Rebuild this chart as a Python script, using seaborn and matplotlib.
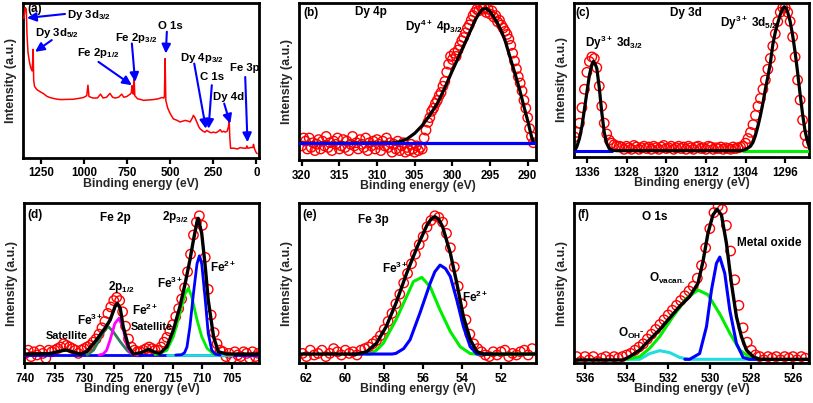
import matplotlib
matplotlib.use("Agg")
import matplotlib.pyplot as plt
import seaborn as sns

# ---------------- data (binding energy in eV, intensity in a.u.) ----------------
# (a) survey spectrum
survey_be = [1350, 1342, 1336, 1332, 1326, 1318, 1310, 1302, 1299, 1296, 1293, 1288, 1275, 1255, 1237,
             1215, 1198, 1170, 1140, 1100, 1063, 1030, 1005, 985, 978, 972, 950, 923, 905, 890, 870,
             850, 835, 820, 800, 782, 770, 752, 733, 726, 722, 718, 714, 710, 706, 690, 670, 656, 630,
             598, 570, 549, 537, 534, 530, 526, 515, 501, 482, 460, 443, 414, 395, 385, 370, 366, 358,
             346, 335, 327, 310, 298, 288, 278, 265, 249, 235, 220, 210, 200, 190, 181, 170, 162, 158,
             155, 150, 130, 110, 94, 75, 60, 55, 50, 30, 20, 17, 12, 5, 0, -5]
survey_int = [90, 97, 96, 80, 68, 62, 58, 56, 62, 70, 50, 46, 44, 42.5, 41.4,
              39.5, 38.8, 38, 37.5, 37.6, 37.7, 38.3, 38.8, 40, 46.8, 39.5, 38.5, 38.5, 41, 38.5, 39,
              41.5, 39, 38.5, 39, 41, 39, 39.5, 41, 42, 46.5, 41.5, 41, 51, 40, 38, 37.5, 37, 37.2,
              37.5, 38, 38.8, 38.5, 40, 64, 37, 32, 28.5, 25, 24, 23, 24, 23.5, 23, 26, 27.3, 26,
              23, 20, 18.6, 17, 16.4, 17.5, 16.8, 16, 16.4, 16, 17, 18, 16.5, 17, 16.4, 17, 20, 24,
              14, 6, 6, 5.5, 6.4, 6, 6, 7.5, 6, 6.5, 6.5, 8.5, 6, 4, 3, 2.5]
survey_labels = [r"Dy 3d$_{3/2}$", r"Dy 3d$_{5/2}$", r"Fe 2p$_{1/2}$", r"Fe 2p$_{3/2}$", "O 1s",
                 r"Dy 4p$_{3/2}$", "C 1s", "Dy 4d", "Fe 3p"]

# (b) Dy 4p
b_be = [320.0, 319.75, 319.5, 319.25, 319.0, 318.75, 318.5, 318.25, 318.0, 317.75, 317.5, 317.25,
        317.0, 316.75, 316.5, 316.25, 316.0, 315.75, 315.5, 315.25, 315.0, 314.75, 314.5, 314.25,
        314.0, 313.75, 313.5, 313.25, 313.0, 312.75, 312.5, 312.25, 312.0, 311.75, 311.5, 311.25,
        311.0, 310.75, 310.5, 310.25, 310.0, 309.75, 309.5, 309.25, 309.0, 308.75, 308.5, 308.25,
        308.0, 307.75, 307.5, 307.25, 307.0, 306.75, 306.5, 306.25, 306.0, 305.75, 305.5, 305.25,
        305.0, 304.75, 304.5, 304.25, 304.0,
        303.75, 303.5, 303.25, 303.0, 302.75, 302.5, 302.25, 302.0, 301.75, 301.5, 301.25, 301.0,
        300.75, 300.5, 300.25, 300.0, 299.75, 299.5, 299.25, 299.0, 298.75, 298.5, 298.25, 298.0,
        297.75, 297.5, 297.25, 297.0, 296.75, 296.5, 296.25, 296.0, 295.75, 295.5, 295.25, 295.0,
        294.75, 294.5, 294.25, 294.0, 293.75, 293.5, 293.25, 293.0, 292.75, 292.5, 292.25, 292.0,
        291.75, 291.5, 291.25, 291.0, 290.75, 290.5, 290.25, 290.0, 289.75, 289.5, 289.25]
b_int = [9, 14, 12, 7, 14, 8, 11, 6, 10, 13, 7, 12, 9, 15, 8, 11, 6, 12, 10, 14,
         7, 9, 13, 8, 12, 6, 10, 15, 9, 11, 7, 13, 10, 8, 14, 6, 11, 9, 12, 7,
         13, 10, 6, 12, 9, 14, 8, 11, 5, 10, 7, 12, 6, 9, 11, 5, 8, 6, 10, 7,
         5, 9, 6, 8, 7,
         14, 19, 24, 27, 31, 33, 36, 38, 41, 43, 47, 50, 56, 61, 66, 64, 68, 66, 70, 73,
         76, 78, 81, 84, 86, 89, 92, 94, 96, 95, 98, 96, 97, 94, 96, 93, 95, 91, 92, 88,
         89, 86, 84, 82, 80, 77, 73, 68, 63, 58, 53, 49, 44, 38, 33, 27, 20, 15, 11]
b_fit_be = [320.4, 308, 307, 306, 305, 304, 303, 302, 301, 300, 299, 298, 297, 296.5, 296, 295.5, 295,
            294.5, 294, 293.5, 293, 292.5, 292, 291.5, 291, 290.5, 290, 289.5, 289.2]
b_fit = [10.6, 10.8, 11.5, 13.5, 17, 22, 28.5, 36, 46, 57, 67.5, 78, 89, 93, 96, 96.5, 94.5, 91, 87,
         82, 76, 68, 60, 52, 43.5, 34, 25, 15, 10.6]
b_base_be = [320.4, 288.9]
b_base = [10.6, 10.6]

# (c) Dy 3d
c_be = [1338.5, 1338.0, 1337.5, 1337.0, 1336.5, 1336.0, 1335.5, 1335.0, 1334.5, 1334.0, 1333.5,
        1333.0, 1332.5, 1332.0, 1331.5, 1331.0, 1330.5, 1330.0,
        1329.5, 1329.0, 1328.5, 1328.0, 1327.5, 1327.0, 1326.5, 1326.0, 1325.5, 1325.0,
        1324.5, 1324.0, 1323.5, 1323.0, 1322.5, 1322.0, 1321.5, 1321.0, 1320.5, 1320.0,
        1319.5, 1319.0, 1318.5, 1318.0, 1317.5, 1317.0, 1316.5, 1316.0, 1315.5, 1315.0,
        1314.5, 1314.0, 1313.5, 1313.0, 1312.5, 1312.0, 1311.5, 1311.0, 1310.5, 1310.0,
        1309.5, 1309.0, 1308.5, 1308.0, 1307.5, 1307.0, 1306.5, 1306.0, 1305.5, 1305.0,
        1304.5, 1304.0, 1303.5, 1303.0, 1302.5, 1302.0, 1301.5, 1301.0, 1300.5, 1300.0, 1299.5,
        1299.0, 1298.5, 1298.0, 1297.5, 1297.0, 1296.5, 1296.0, 1295.5, 1295.0, 1294.5, 1294.0,
        1293.5, 1293.0, 1292.5, 1292.0, 1291.5]
c_int = [13, 16, 22, 32, 44, 55, 62, 65, 64, 58, 46, 33, 22, 15, 11, 9, 8, 7,
         7, 6.5, 5, 7, 6, 5, 7.5, 6.5, 5, 6,
         7, 5.5, 6.5, 5, 7, 6, 5, 6.5, 7.5, 5.5,
         6, 7, 5, 6, 7, 5.5, 6.5, 5, 7, 6,
         5, 6.5, 7, 5.5, 6, 5, 7, 6.5, 5, 6,
         5.5, 6.5, 5, 6, 5.5, 5, 6.5, 5.5, 6, 6.5,
         7, 9, 12, 16, 21, 27, 33, 38, 44, 50, 57, 64, 72, 80, 88, 94, 97, 97, 94, 88, 78, 65, 50,
         37, 24, 14, 9]
c_fit_be = [1338.3, 1338.0, 1337.5, 1337.0, 1336.5, 1336.0, 1335.5, 1335.0, 1334.7, 1334.4, 1334.0,
            1333.5, 1333.0, 1332.5, 1332.0, 1331.5, 1331.0, 1330.0, 1305.0, 1304.0, 1303.0, 1302.5,
            1302.0, 1301.5, 1301.0, 1300.5, 1300.0, 1299.5, 1299.0, 1298.5, 1298.0, 1297.5, 1297.0,
            1296.5, 1296.2, 1295.8, 1295.5, 1295.0, 1294.5, 1294.0, 1293.5, 1293.0, 1292.5, 1292.0,
            1291.5, 1291.2]
c_fit = [5, 7, 12, 20, 31, 42, 53, 60, 62, 61, 57.5, 45, 29, 16, 8.9, 5.5, 4.5, 4.1, 4.1, 4.8, 7,
         9.5, 14, 20, 27, 35, 44, 52, 61, 73, 81, 87, 92.5, 96.5, 97.6, 96.5, 94, 88, 79, 68, 55,
         41, 28, 17, 10, 7]
c_d32_be = [1338.3, 1331.0]
c_d32 = [4.1, 4.1]
c_d52_be = [1304.5, 1291.2]
c_d52 = [4.1, 4.1]

# (d) Fe 2p
d_be = [740.0, 739.5, 739.0, 738.5, 738.0, 737.5, 737.0, 736.5, 736.0, 735.5,
        735.0, 734.5, 734.0, 733.5, 733.0, 732.5, 732.0, 731.5, 731.0, 730.5,
        730.0, 729.5, 729.0, 728.5, 728.0, 727.5, 727.0, 726.5, 726.0, 725.5,
        725.0, 724.5, 724.0, 723.5, 723.0, 722.5, 722.0, 721.5, 721.0, 720.5,
        720.0, 719.5, 719.0, 718.5, 718.0, 717.5, 717.0, 716.5, 716.0, 715.5,
        715.0, 714.5, 714.0, 713.5, 713.0, 712.5, 712.0, 711.5, 711.0, 710.5,
        710.0, 709.5, 709.0, 708.5, 708.0, 707.5, 707.0, 706.5, 706.0, 705.5,
        705.0, 704.5, 704.0, 703.5, 703.0, 702.5, 702.0, 701.5, 701.0, 700.5]
d_int = [6, 8, 4, 7, 5, 8, 6, 3, 8, 7,
         8, 9, 10, 12, 11, 10, 9, 8, 6, 8,
         9, 10, 11, 13, 15, 18, 22, 26, 31, 35,
         39, 41, 39, 32, 23, 15, 10, 8, 7, 7,
         8, 9, 10, 9, 8, 8, 10, 13, 16, 20,
         24, 29, 34, 40, 47, 57, 68, 80, 88, 92,
         86, 66, 46, 30, 19, 12, 8, 7, 4, 6,
         3, 7, 5, 4, 7, 6, 3, 7, 4, 6]
d_fit_be = [740.2, 735.8, 733.8, 733.0, 732.1, 730.7, 729.6, 727.9, 726.5, 725.6, 724.8, 724.4,
            723.9, 723.4, 722.5, 721.7, 720.3, 719.1, 718.3, 717.2, 716.0, 714.9, 713.8, 712.9,
            712.1, 711.5, 710.9, 710.7, 710.1, 709.5, 709.0, 708.1, 707.3, 705.9, 700.4]
d_fit = [5.6, 5.9, 7.7, 8.1, 7.1, 5.6, 7.1, 14.6, 21.7, 26.9, 35.2, 37.3, 34.2, 22.7, 10.2, 5.6,
         6.5, 8.6, 7.1, 5.9, 10.2, 20.6, 35.2, 49.8, 64.4, 76.9, 88.3, 90.4, 81, 60.2, 39.4, 16.5,
         7.1, 5.6, 5.6]
d_fe2_32_be = [714.5, 713.5, 713.0, 712.6, 712.1, 711.5, 710.9, 710.5, 710.1, 709.5, 709.0, 708.4,
               707.8, 707.0]
d_fe2_32 = [5, 5.2, 6.5, 10, 22.7, 43.5, 62, 67, 62, 39.4, 18.5, 8, 5.5, 5]
d_fe3_32_be = [718.0, 717.2, 716.0, 714.9, 713.8, 712.9, 712.35, 711.8, 710.9, 710.1, 709.2, 708.1,
               707.0]
d_fe3_32 = [5.2, 5.9, 8, 16.5, 31, 43.5, 46.7, 41.5, 27, 16.5, 9.2, 5.6, 5]
d_fe2_12_be = [727.5, 726.8, 726.2, 725.6, 724.8, 724.1, 723.4, 722.9, 722.3, 721.7, 721.0]
d_fe2_12 = [5, 5.6, 8, 14.6, 24.8, 28, 21.7, 12.3, 7, 5.5, 5]
d_fe3_12_be = [729.5, 728.4, 727.3, 726.5, 725.9, 725.1, 723.9, 722.7, 722.0, 721.0]
d_fe3_12 = [5, 8.1, 15.6, 20.8, 22.7, 19.6, 13.3, 7.7, 5.6, 5]
d_base_be = [740.2, 700.4]
d_base = [5, 5]
d_sat_be = [716.0, 705.0]
d_sat = [5, 5]

# (e) Fe 3p
e_be = [62.2, 62.0, 61.8, 61.6, 61.4, 61.2, 61.0, 60.8, 60.6, 60.4,
        60.2, 60.0, 59.8, 59.6, 59.4, 59.2, 59.0, 58.8, 58.6, 58.4,
        58.2, 58.0, 57.8, 57.6, 57.4, 57.2, 57.0, 56.8, 56.6, 56.4,
        56.2, 56.0, 55.8, 55.6, 55.4, 55.2, 55.0, 54.8, 54.6, 54.4,
        54.2, 54.0, 53.8, 53.6, 53.4, 53.2, 53.0, 52.8, 52.6, 52.4,
        52.2, 52.0, 51.8, 51.6, 51.4, 51.2, 51.0, 50.8, 50.6, 50.4]
e_int = [6, 4, 8, 5, 6, 8, 4, 6, 9, 7,
         5, 8, 6, 7, 5, 8, 9, 10, 12, 14,
         17, 21, 26, 31, 37, 43, 50, 56, 62, 68,
         74, 79, 85, 89, 92, 91, 88, 81, 72, 60,
         48, 37, 27, 18, 12, 9, 7, 5, 4, 7,
         5, 7, 8, 4, 6, 5, 7, 8, 5, 9]
e_fit_be = [62.4, 59.4, 58.9, 58.4, 57.9, 57.4, 56.85, 56.3, 55.8, 55.6, 55.4, 55.2, 55.0, 54.6,
            54.27, 53.93, 53.58, 53.24, 52.9, 50.2]
e_fit = [5.6, 5.6, 7.1, 12.3, 22.7, 37.3, 56, 72.7, 86.2, 89.8, 91.5, 89.8, 85.2, 68.5, 49.8, 29,
         14.6, 7.1, 5.6, 5.6]
e_fe2_be = [59.6, 57.6, 57.4, 57.0, 56.67, 56.16, 55.64, 55.4, 55.13, 54.85, 54.6, 54.27, 53.93,
            53.58, 53.24, 52.9, 52.5]
e_fe2 = [5.6, 5.6, 6, 9, 14.6, 31.4, 49.8, 57, 61.2, 59, 54, 39.4, 22.7, 10.2, 5.6, 5.6, 5.6]
e_fe3_be = [58.9, 58.74, 58.4, 58.05, 57.4, 56.85, 56.5, 56.07, 55.64, 55.13, 54.6, 54.1, 53.58,
            53.24, 50.2]
e_fe3 = [5.6, 5.6, 8, 12.3, 26.9, 41.5, 50.9, 53.5, 47.7, 33.1, 19.6, 10.2, 5.9, 5.6, 5.6]

# (f) O 1s
f_be = [536.4, 536.2, 536.0, 535.8, 535.6, 535.4, 535.2, 535.0, 534.8, 534.6,
        534.4, 534.2, 534.0, 533.8, 533.6, 533.4, 533.2, 533.0, 532.8, 532.6,
        532.4, 532.2, 532.0, 531.8, 531.6, 531.4, 531.2, 531.0, 530.8, 530.6,
        530.4, 530.2, 530.0, 529.8, 529.6, 529.4, 529.2, 529.0, 528.8, 528.6,
        528.4, 528.2, 528.0, 527.8, 527.6, 527.4, 527.2, 527.0, 526.8, 526.6,
        526.4, 526.2, 526.0, 525.8, 525.6, 525.4]
f_int = [4, 1, 4, 2, 4, 1, 3, 4, 2, 4,
         3, 4, 5, 6, 8, 10, 12, 15, 18, 21,
         24, 27, 30, 33, 36, 39, 42, 45, 48, 53,
         61, 72, 84, 94, 98, 96, 86, 70, 52, 36,
         22, 13, 8, 5, 4, 2, 4, 3, 4, 2,
         4, 3, 4, 2, 4, 3]
f_fit_be = [536.5, 534.17, 533.85, 533.37, 532.89, 532.41, 531.93, 531.45, 530.97, 530.57, 530.33,
            530.09, 529.85, 529.65, 529.44, 529.2, 528.96, 528.72, 528.48, 528.24, 527.92, 527.6,
            525.2]
f_fit = [1.9, 1.9, 4, 8.1, 14.6, 20.8, 28.1, 35.4, 41.5, 49.8, 63.3, 81, 92.5, 96.1, 92.5, 74.8,
         49.8, 29, 16.5, 8.1, 4, 2.3, 2.3]
f_vac_be = [534.0, 533.37, 532.89, 532.41, 531.77, 531.13, 530.57, 530.09, 529.5, 529.04, 528.56,
            528.08, 527.7, 527.2]
f_vac = [2.3, 4, 9.2, 16.5, 29, 40.4, 45.6, 42.7, 30.2, 18.7, 8.1, 3.5, 2.3, 2.3]
f_mo_be = [531.2, 530.97, 530.49, 530.16, 529.92, 529.68, 529.52, 529.28, 529.04, 528.72, 528.4,
           528.1, 527.3]
f_mo = [2.3, 2.3, 5.9, 22.7, 45.6, 62.3, 66.2, 56, 33.1, 12.3, 3.5, 2.3, 2.3]
f_oh_be = [534.0, 533.37, 532.89, 532.41, 531.93, 531.45, 531.0, 527.6]
f_oh = [2.3, 2.3, 5.9, 7.7, 6.5, 3.5, 2.3, 2.3]

# ---------------- style ----------------
sns.set_theme(style="ticks")
plt.rcParams["font.family"] = ["Liberation Sans", "DejaVu Sans"]
plt.rcParams["font.weight"] = "bold"
plt.rcParams["mathtext.fontset"] = "custom"
plt.rcParams["mathtext.rm"] = "Liberation Sans:bold"
plt.rcParams["mathtext.bf"] = "Liberation Sans:bold"
plt.rcParams["mathtext.it"] = "Liberation Sans:bold"
plt.rcParams["mathtext.default"] = "bf"

RED, BLUE, BLACK = "#ff0000", "#0000ff", "#000000"
GREEN, MAG, DKGREEN, CYAN = "#00ee00", "#ff00ff", "#2e7d5b", "#22dddd"

W, H = 813, 403
fig = plt.figure(figsize=(W / 100, H / 100), dpi=100)
fig.patch.set_facecolor("white")


def add_ax(l, r, t, b):
    return fig.add_axes([l / W, 1 - b / H, (r - l) / W, (b - t) / H])


def style(ax, xlim, ticks):
    ax.set_xlim(*xlim)
    ax.set_ylim(0, 100)
    ax.set_xticks(ticks)
    ax.set_xticklabels([str(t) for t in ticks], fontweight="bold")
    ax.set_yticks([])
    ax.tick_params(axis="x", direction="out", length=4, width=1.6, labelsize=8.3, pad=3,
                   colors="black")
    for s in ax.spines.values():
        s.set_linewidth(2.0)
        s.set_color("black")
    ax.set_xlabel("Binding energy (eV)", fontsize=8.8, fontweight="bold", labelpad=-1)
    ax.set_ylabel("Intensity (a.u.)", fontsize=9, fontweight="bold", labelpad=4.5)
    ax.set_facecolor("white")


def circles(ax, x, y):
    sns.scatterplot(x=x, y=y, ax=ax, s=46, marker="o", facecolor="none", edgecolor=RED,
                    linewidth=1.0, legend=False, zorder=2)


def line(ax, x, y, color, lw=2.2, z=3):
    sns.lineplot(x=x, y=y, ax=ax, color=color, linewidth=lw, sort=False, estimator=None,
                 legend=False, zorder=z)


def txt(ax, x, y, s, size=8.5):
    ax.text(x, y, s, ha="left", va="center", fontsize=size, fontweight="bold", color="black",
            zorder=6)


# ---------------- (a) ----------------
ax = add_ax(23, 259, 3, 157.5)
line(ax, survey_be, survey_int, RED, lw=1.1)
style(ax, (1355, -15), [1250, 1000, 750, 500, 250, 0])
txt(ax, 1332, 96, "(a)")
a_text_pos = [(1099, 92.2), (1285, 80.5), (1041, 67.5), (820, 77.3), (571, 85),
              (443, 64.3), (327, 52), (251, 39), (152, 57.8)]
a_arrows = [((1111, 92.9), (1332, 90.3)), ((1188, 76), (1285, 68.4)), ((917, 61.9), (723, 46.8)),
            ((723, 73.8), (704, 48.9)), ((520, 81.4), (526, 67.3)), ((361, 60.8), (293, 18.6)),
            ((259, 46.8), (278, 18.6)), ((187, 34.9), (152, 21.9)), ((65, 52.1), (52, 9.9))]
for lab, (tx, ty), (tail, head) in zip(survey_labels, a_text_pos, a_arrows):
    txt(ax, tx, ty, lab, size=8.2)
    ax.annotate("", xy=head, xytext=tail,
                arrowprops=dict(arrowstyle="-|>,head_length=0.45,head_width=0.22", color=BLUE,
                                lw=1.5, shrinkA=0, shrinkB=0), zorder=5)

# ---------------- (b) ----------------
ax = add_ax(299, 536, 3, 160)
circles(ax, b_be, b_int)
line(ax, b_fit_be, b_fit, BLACK, lw=2.3, z=3)
line(ax, b_base_be, b_base, BLUE, lw=2.3, z=4)
style(ax, (320.36, 288.9), [320, 315, 310, 305, 300, 295, 290])
txt(ax, 319.8, 93.6, "(b)")
txt(ax, 312.9, 94.3, "Dy 4p")
txt(ax, 306.3, 84.7, r"Dy$^{4+}$ 4p$_{3/2}$")

# ---------------- (c) ----------------
ax = add_ax(574, 809, 3, 157)
circles(ax, c_be, c_int)
line(ax, c_d32_be, c_d32, BLUE, lw=2.2, z=3)
line(ax, c_d52_be, c_d52, GREEN, lw=2.2, z=3)
line(ax, c_fit_be, c_fit, BLACK, lw=2.3, z=4)
style(ax, (1338.6, 1291.2), [1336, 1328, 1320, 1312, 1304, 1296])
txt(ax, 1338.4, 93.5, "(c)")
txt(ax, 1319.25, 93.5, "Dy 3d")
txt(ax, 1309.2, 87, r"Dy$^{3+}$ 3d$_{5/2}$")
txt(ax, 1336.4, 74, r"Dy$^{3+}$ 3d$_{3/2}$")

# ---------------- (d) ----------------
ax = add_ax(24, 259, 203, 363)
circles(ax, d_be, d_int)
line(ax, d_base_be, d_base, BLUE, lw=2.0, z=3)
line(ax, d_sat_be, d_sat, CYAN, lw=2.0, z=3)
line(ax, d_fe3_12_be, d_fe3_12, DKGREEN, lw=2.0, z=3)
line(ax, d_fe2_12_be, d_fe2_12, MAG, lw=2.0, z=3)
line(ax, d_fe3_32_be, d_fe3_32, GREEN, lw=2.0, z=3)
line(ax, d_fe2_32_be, d_fe2_32, BLUE, lw=2.0, z=3)
line(ax, d_fit_be, d_fit, BLACK, lw=2.4, z=4)
style(ax, (740.2, 700.4), [740, 735, 730, 725, 720, 715, 710, 705])
txt(ax, 739.7, 92.5, "(d)")
txt(ax, 727.3, 90.6, "Fe 2p")
txt(ax, 716.8, 91.3, r"2p$_{3/2}$")
txt(ax, 708.7, 60, r"Fe$^{2+}$")
txt(ax, 717.7, 50, r"Fe$^{3+}$")
txt(ax, 726.0, 47.5, r"2p$_{1/2}$")
txt(ax, 721.9, 33.1, r"Fe$^{2+}$")
txt(ax, 731.2, 26.9, r"Fe$^{3+}$")
txt(ax, 722.2, 22.5, "Satellite", size=7.8)
txt(ax, 736.6, 16.9, "Satellite", size=7.8)

# ---------------- (e) ----------------
ax = add_ax(299, 536, 203, 363)
circles(ax, e_be, e_int)
line(ax, e_fe3_be, e_fe3, GREEN, lw=2.2, z=3)
line(ax, e_fe2_be, e_fe2, BLUE, lw=2.2, z=3)
line(ax, e_fit_be, e_fit, BLACK, lw=2.4, z=4)
style(ax, (62.38, 50.2), [62, 60, 58, 56, 54, 52])
txt(ax, 62.19, 92.5, "(e)")
txt(ax, 59.35, 89.4, "Fe 3p")
txt(ax, 58.12, 59.4, r"Fe$^{3+}$")
txt(ax, 54.0, 41.25, r"Fe$^{2+}$")

# ---------------- (f) ----------------
ax = add_ax(574, 809, 203, 363)
circles(ax, f_be, f_int)
line(ax, f_oh_be, f_oh, CYAN, lw=2.2, z=3)
line(ax, f_vac_be, f_vac, GREEN, lw=2.2, z=3)
line(ax, f_mo_be, f_mo, BLUE, lw=2.2, z=3)
line(ax, f_fit_be, f_fit, BLACK, lw=2.4, z=4)
style(ax, (536.53, 525.23), [536, 534, 532, 530, 528, 526])
txt(ax, 536.35, 92.5, "(f)")
txt(ax, 533.27, 91.3, "O 1s")
txt(ax, 528.7, 75, "Metal oxide")
txt(ax, 532.9, 53, r"O$_{vacan.}$")
txt(ax, 534.4, 18.75, r"O$_{OH^{-}}$")

fig.savefig("out.png", dpi=100, facecolor="white")
